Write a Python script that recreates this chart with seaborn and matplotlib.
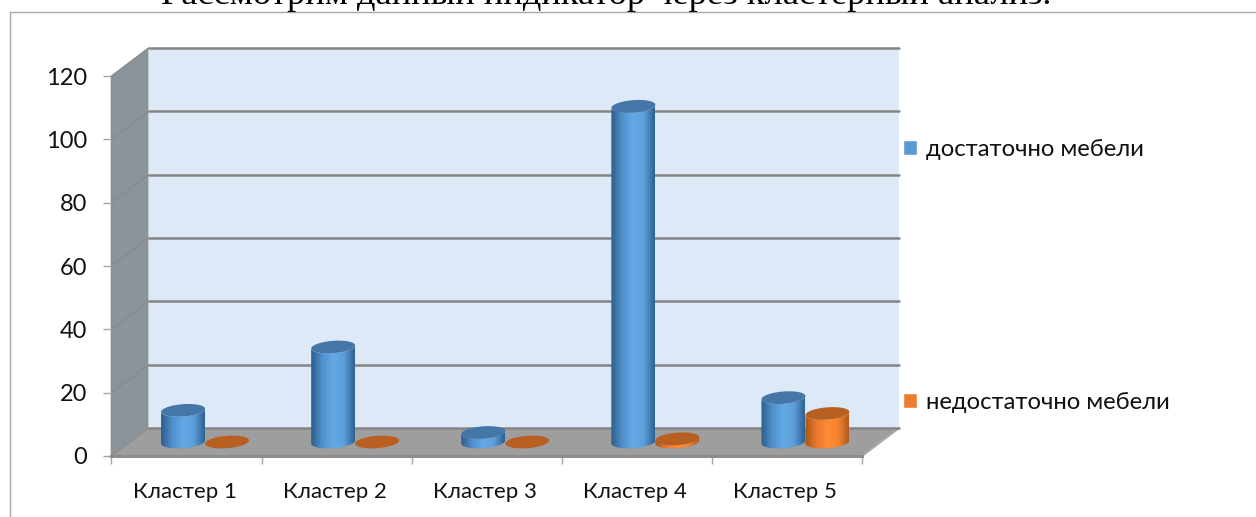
import numpy as np
import pandas as pd
import matplotlib
matplotlib.use('Agg')
import matplotlib.pyplot as plt
import seaborn as sns
from matplotlib.colors import LinearSegmentedColormap
from matplotlib.patches import Polygon
from matplotlib.path import Path

title = 'Рассмотрим данный индикатор через кластерный анализ.'
clusters = ['Кластер 1', 'Кластер 2', 'Кластер 3', 'Кластер 4', 'Кластер 5']
enough = [10, 30, 3, 106, 14]
not_enough = [0, 0, 0, 1, 9]
y_ticks = [0, 20, 40, 60, 80, 100, 120]
series_names = ['достаточно мебели', 'недостаточно мебели']
legend_colors = ['#5b9bd5', '#ed7d31']
body_colors = [['#2c5c8a', '#4f8fca', '#64a8e6', '#5c9fdc', '#2f6090'],
               ['#a8541a', '#e8782c', '#ff8a35', '#f5842f', '#b05a1c']]
top_colors = ['#4477a8', '#b85f22']

W, H = 1256, 517
X0, X1, Y0, Y1 = 111.5, 862, 456, 76   # front plane of the 3d box
DX, DY = 37, -28                       # depth of the box

sns.set_theme(style='white')
plt.rcParams['font.family'] = ['Lato', 'Noto Sans']

df = pd.DataFrame({'cluster': clusters * 2,
                   'value': enough + not_enough,
                   'series': [series_names[0]] * 5 + [series_names[1]] * 5})

fig = plt.figure(figsize=(W / 100, H / 100), dpi=100)


def px_axes(x0, y0, x1, y1):
    return fig.add_axes([x0 / W, 1 - y1 / H, (x1 - x0) / W, (y1 - y0) / H])


# walls, floor and outer frame, in pixel coordinates
bg = px_axes(0, 0, W, H)
bg.set_xlim(0, W)
bg.set_ylim(H, 0)
bg.set_axis_off()
bg.add_patch(Polygon([(X0, Y1), (X0 + DX, Y1 + DY), (X0 + DX, Y0 + DY), (X0, Y0)], fc='#8b949b', ec='none'))
bg.add_patch(Polygon([(X0, Y0), (X0 + DX, Y0 + DY), (X1 + DX, Y0 + DY), (X1, Y0)], fc='#9e9e9e', ec='none'))
bg.plot([9.5, 9.5], [H, 11.5], color='#a6a6a6', lw=1)
bg.plot([9.5, W], [11.5, 11.5], color='#a6a6a6', lw=1)
for v in y_ticks[1:]:
    y = Y0 + (Y1 - Y0) * v / 120
    bg.plot([X0, X0 + DX], [y, y + DY], color='#8a8a8a', lw=1)
bg.plot([X0, X0, X0 + DX], [Y1, Y0, Y0 + DY], color='#8f8f8f', lw=1.2)
bg.plot([X1, X1 + DX], [Y0, Y0 + DY], color='#a8a8a8', lw=1.5)

# back wall with the gridlines
back = px_axes(X0 + DX, Y1 + DY, X1 + DX, Y0 + DY)
back.set_facecolor('#dee9f7')
back.set_xlim(0, 1)
back.set_ylim(0, 120)
back.set_yticks(y_ticks)
back.set_xticks([])
back.tick_params(left=False, labelleft=False)
back.grid(axis='y', color='#858585', lw=1.8, clip_on=False)
back.set_axisbelow(False)
sns.despine(ax=back, left=True, bottom=True)

# front axis with ticks and labels
front = px_axes(X0, Y1, X1, Y0)
front.patch.set_alpha(0)
front.set_xlim(-0.5, 4.5)
front.set_ylim(0, 120)
front.set_yticks(y_ticks)
front.set_xticks(np.arange(5) - 0.013)
front.set_xticklabels(clusters, fontsize=16, color='#111111')
front.set_xticks(np.arange(-0.5, 5), minor=True)
front.tick_params(axis='y', left=True, length=5.8, width=1, color='#a6a6a6', labelsize=17, labelcolor='#111111', pad=12)
front.tick_params(axis='x', which='major', bottom=False, pad=12.5)
front.tick_params(axis='x', which='minor', bottom=True, length=6, width=1, color='#a6a6a6')
sns.despine(ax=front, left=True)
front.spines['bottom'].set_color('#8c8c8c')
front.spines['bottom'].set_linewidth(2.2)

# the bars stand in the middle of the box depth
ax = px_axes(X0 + DX / 2, Y1 + DY / 2, X1 + DX / 2, Y0 + DY / 2)
sns.barplot(data=df, x='cluster', y='value', hue='series', palette=legend_colors,
            width=0.586, gap=0, dodge=True, saturation=1, ax=ax)
ax.patch.set_alpha(0)
handles, labels = ax.get_legend_handles_labels()

t = np.linspace(0, 2 * np.pi, 121)
for container, colors, top in zip(ax.containers, body_colors, top_colors):
    cmap = LinearSegmentedColormap.from_list('cyl', colors)
    for bar in container:
        x, w, h = bar.get_x(), bar.get_width(), bar.get_height()
        cx = x + w / 2
        a, b, k = w / 2, 1.95, 0.5
        if h > 0:
            # body: lower half of the base ellipse plus the top edge
            tb = np.linspace(np.pi, 2 * np.pi, 60)
            low = np.c_[cx + a * np.cos(tb), b * np.sin(tb) + k * np.cos(tb)]
            up = low[::-1] + [0, h]
            body = Path(np.vstack([low, up, low[:1]]))
            im = ax.imshow(np.linspace(0, 1, 256)[None, :], cmap=cmap, extent=(x, x + w, -4, h + 4),
                           aspect='auto', zorder=3)
            im.set_clip_box(fig.bbox)
            im.set_clip_path(body, ax.transData)
        bar.set_alpha(0)
        ax.fill(cx + a * np.cos(t), h + b * np.sin(t) + k * np.cos(t), color=top, lw=0, zorder=4, clip_on=False)

ax.set_xlim(-0.5, 4.5)
ax.set_ylim(0, 120)
ax.set_axis_off()
leg = ax.legend(handles, labels, loc='center left', bbox_to_anchor=(903 / W, 1 - 276 / H),
                bbox_transform=fig.transFigure, frameon=False, fontsize=17.2, borderpad=0, borderaxespad=0,
                labelspacing=9.7, handlelength=0.6, handleheight=0.6, handletextpad=0.35)
for patch, col in zip(leg.get_patches(), legend_colors):
    patch.set_alpha(1)
    patch.set_facecolor(col)
for txt in leg.get_texts():
    txt.set_color('#111111')

fig.text(606 / W, 1 - 4 / H, title, family='Liberation Serif', fontsize=26.2, color='black', ha='center', va='baseline')

fig.savefig('out.png', dpi=100)
